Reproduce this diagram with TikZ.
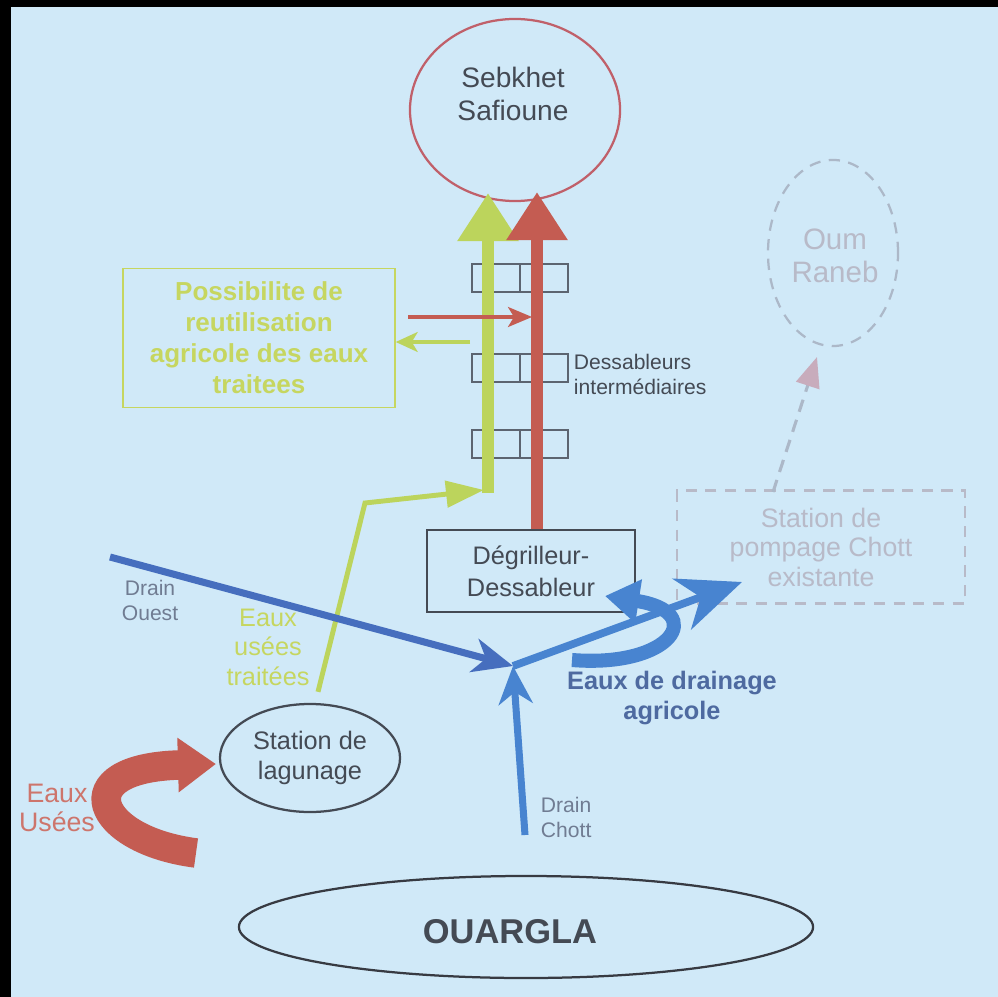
\documentclass[tikz,border=0pt]{standalone}
\usepackage{fontspec}
\setmainfont{Liberation Sans}
\usetikzlibrary{shapes.geometric,arrows.meta,calc}
\definecolor{bg}{RGB}{208,233,248}
\definecolor{darktxt}{RGB}{68,74,84}
\definecolor{darkline}{RGB}{55,58,66}
\definecolor{redc}{RGB}{196,92,82}
\definecolor{redline}{RGB}{192,96,106}
\definecolor{greenc}{RGB}{188,212,92}
\definecolor{greentxt}{RGB}{198,214,96}
\definecolor{greenbox}{RGB}{200,222,130}
\definecolor{bluec}{RGB}{72,132,208}
\definecolor{blued}{RGB}{70,110,190}
\definecolor{bluetxt}{RGB}{78,106,160}
\definecolor{graytxt}{RGB}{112,124,146}
\definecolor{dashc}{RGB}{172,184,200}
\definecolor{ghosttxt}{RGB}{184,186,200}
\definecolor{ghosthead}{RGB}{200,172,188}
\definecolor{boxc}{RGB}{92,100,112}
\begin{document}
\begin{tikzpicture}[x=0.025cm,y=-0.025cm,
  fs/.style n args={2}{font=\fontsize{#1pt}{#2pt}\selectfont},
  fsb/.style n args={2}{font=\fontsize{#1pt}{#2pt}\selectfont\bfseries},
  ellip/.style={ellipse,draw,inner sep=0pt,line width=1.6pt},
  halfbox/.style={draw=boxc,line width=1pt,minimum width=1.2cm,minimum height=0.7cm,inner sep=0pt},
  dashline/.style={draw=dashc,line width=1.6pt,dash pattern=on 8pt off 6pt},
  bigarrow/.style={line width=8.5pt,-{Triangle[width=1.45cm,length=1.2cm]}},
  bluearrow/.style={bluec,line width=5pt}
]
\useasboundingbox (0,0) rectangle (998,997);
\fill[bg] (0,0) rectangle (998,997);
\fill[black] (0,0) rectangle (998,7);
\fill[black] (0,0) rectangle (11,997);

% main nodes
\node[ellip,draw=redline,minimum width=5.25cm,minimum height=4.55cm] (sebkhet) at (515,110) {};
\node[darktxt,fs={20}{23},align=center] (sebkhettxt) at (513,94) {Sebkhet\\Safioune};

\node[ellip,dashline,minimum width=3.25cm,minimum height=4.65cm] (oum) at (833,253) {};
\node[ghosttxt,fs={21}{23.5},align=center] (oumtxt) at (835,256) {Oum\\Raneb};

\node[draw=greenbox,line width=1pt,minimum width=6.8cm,minimum height=3.475cm,inner sep=0pt,
      greentxt,fsb={18.5}{22},align=center] (poss) at (259,338)
  {Possibilite de\\reutilisation\\agricole des eaux\\traitees};

\node[draw=darkline,line width=2pt,minimum width=5.2cm,minimum height=2.05cm,inner sep=0pt,
      darktxt,fs={18}{22.7},align=center] (degr) at (531,571) {Dégrilleur-\\Dessableur};

\node[dashline,minimum width=7.2cm,minimum height=2.825cm,inner sep=0pt,
      ghosttxt,fs={19}{21},align=center] (pomp) at (821,547) {Station de\\pompage Chott\\existante};

\node[ellip,draw=darkline,minimum width=4.5cm,minimum height=2.7cm,
      darktxt,fs={18}{21},align=center] (lag) at (310,758) {Station de\\lagunage};

\node[ellip,draw=darkline,minimum width=14.35cm,minimum height=2.55cm] (ouargla) at (526,927) {};
\node[darktxt,fsb={24.5}{28}] (ouarglatxt) at (510,932) {OUARGLA};

% dessableurs intermediaires
\node[halfbox] (b1l) at (496,278) {};
\node[halfbox] (b1r) at (544,278) {};
\node[halfbox] (b2l) at (496,368) {};
\node[halfbox] (b2r) at (544,368) {};
\node[halfbox] (b3l) at (496,444) {};
\node[halfbox] (b3r) at (544,444) {};
\node[darktxt,fs={15}{17.8},align=left,anchor=west] (dessint) at (569,374) {Dessableurs\\intermédiaires};

% labels
\node[graytxt,fs={15}{17.8},align=center] (drainouest) at (150,600) {Drain\\Ouest};
\node[graytxt,fs={15}{17.8},align=left,anchor=west] (drainchott) at (536,817) {Drain\\Chott};
\node[greentxt,fs={18}{21},align=center] (eut) at (268,647) {Eaux\\usées\\traitées};
\node[redc!85!white,fs={19}{20.6},align=center] (eauxusees) at (57,808) {Eaux\\Usées};
\node[bluetxt,fsb={18}{21},align=center] (drainage) at (672,698) {Eaux de drainage\\agricole};

% coordinates
\coordinate (gtip) at (488,193);
\coordinate (gbase) at (488,493);
\coordinate (rtip) at (537,192);
\coordinate (gbend) at (365,503);
\coordinate (gend) at (484,490);
\coordinate (gstart) at ($(lag.north)+(8,-11)$);
\coordinate (rsmallstart) at (408,317);
\coordinate (rsmallend) at (532,317);
\coordinate (gsmallstart) at (470,342);
\coordinate (gsmallend) at (poss.east |- gsmallstart);
\coordinate (ouestst) at (110,557);
\coordinate (J) at (513,666);
\coordinate (chottst) at (525,835);
\coordinate (outend) at (742,582);
\coordinate (curlst) at (572,660);
\coordinate (curlend) at (605,596);
\coordinate (eustart) at (196,853);
\coordinate (euend) at (216,764);
\coordinate (pompst) at (773,492);
\coordinate (oumend) at (817,357);

% green flow
\draw[greenc,line width=3.5pt,line join=miter,-{Triangle[width=0.65cm,length=0.95cm]}] (gstart) -- (gbend) -- (gend);
\draw[greenc,bigarrow] (gbase) -- (gtip);
% red flow
\draw[redc,bigarrow] (degr.north -| rtip) -- (rtip);
% small arrows
\draw[redc,line width=2.2pt,-{Stealth[width=0.5cm,length=0.6cm,inset=0.15cm]}] (rsmallstart) -- (rsmallend);
\draw[greenc,line width=2.2pt,-{Stealth[width=0.5cm,length=0.55cm,inset=0.15cm]}] (gsmallstart) -- (gsmallend);

% blue drains
\draw[blued,line width=5pt,-{Stealth[width=0.85cm,length=1cm,inset=0.3cm]}] (ouestst) -- (J);
\draw[bluearrow,-{Stealth[width=0.85cm,length=0.95cm,inset=0.3cm]}] (chottst) -- (J);
\draw[bluearrow,line width=5.5pt,-{Stealth[width=1.35cm,length=1.6cm,inset=0.5cm]}] (J) -- (outend);
\draw[bluec,line width=10pt,-{Triangle[width=1.05cm,length=0.85cm]}] (curlst) .. controls (672,668) and (708,612) .. (curlend);

% eaux usees curved arrow
\draw[redc,line width=21pt,-{Triangle[width=1.3cm,length=0.95cm]}] (eustart) .. controls (95,840) and (65,768) .. (euend);

% dashed arrow to Oum Raneb
\draw[dashc,line width=2.2pt,dash pattern=on 9pt off 6pt,-{Triangle[width=0.6cm,length=0.75cm,color=ghosthead]}] (pompst) -- (oumend);

\end{tikzpicture}
\end{document}
